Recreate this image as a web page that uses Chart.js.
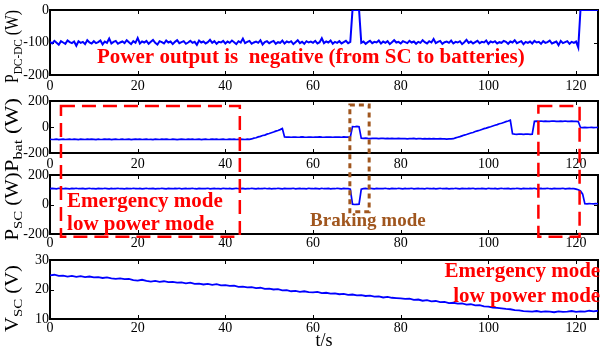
<!DOCTYPE html>
<html>
<head>
<meta charset="utf-8">
<script src="https://cdn.jsdelivr.net/npm/chart.js@4.4.0/dist/chart.umd.min.js"></script>
<style>
  html, body { margin: 0; padding: 0; background: #fff; }
  #wrap { position: relative; width: 607px; height: 348px; overflow: hidden; }
  #wrap canvas { position: absolute; left: 0; top: 0; }
</style>
</head>
<body>
<div id="wrap">
  <canvas id="c1" width="607" height="348"></canvas>
  <canvas id="c2" width="607" height="348"></canvas>
  <canvas id="c3" width="607" height="348"></canvas>
  <canvas id="c4" width="607" height="348"></canvas>
  <canvas id="notes" width="607" height="348"></canvas>
</div>
<script>
const SERIF = '"Liberation Serif", "Times New Roman", serif';
const RED = '#ff0000';
const BROWN = '#a0561e';

// sample spacing (s) of the power traces and of the SC voltage
const P_STEP = 0.5;
const V_STEP = 1;

// P_DC-DC (W), one value every 0.5 s from t = 0
const pDcDc = [
  -98,-103,-95,-101,-107,-96,-100,-104,-94,-99,-102,-97,-110,-96,-101,-98,-105,-93,-100,-103,
  -96,-102,-99,-94,-106,-97,-101,-88,-103,-98,-95,-104,-100,-97,-102,-93,-99,-105,-96,-101,
  -86,-103,-97,-100,-95,-104,-98,-92,-101,-106,-96,-99,-103,-94,-100,-97,-105,-98,-93,-102,
  -99,-96,-104,-100,-95,-101,-98,-107,-94,-100,-97,-103,-99,-92,-101,-96,-104,-98,-100,-95,
  -103,-97,-101,-94,-99,-105,-96,-100,-88,-102,-98,-95,-104,-100,-97,-101,-93,-106,-99,-96,
  -102,-98,-95,-104,-99,-101,-94,-103,-97,-100,-96,-105,-99,-93,-102,-98,-104,-96,-100,-97,
  -101,-95,-103,-99,-87,-102,-97,-100,-94,-104,-98,-101,-96,-103,-99,-95,-102,-98,
  0,0,0,0,
  -101,-97,-104,-99,-95,-102,-98,-100,-94,-103,-97,-101,-96,-105,-99,-93,-100,-98,-103,-96,
  -99,-102,-95,-100,-97,-104,-98,-101,-93,-99,-103,-96,-100,-89,-102,-98,-95,-104,-99,-97,
  -101,-94,-103,-98,-100,-96,-105,-99,-92,-101,-97,-103,-99,-95,-102,-98,-100,-94,-104,-97,
  -100,-96,-103,-99,-101,-95,-98,-104,-97,-100,-93,-102,-99,-96,-105,-98,-101,-97,-103,-95,
  -100,-98,-104,-96,-101,-99,-94,-103,-100,-97,-108,-95,-102,-99,-96,-104,-98,-101,-97,-115,
  0,0,0,0,0,0,0,0,0
];

// P_bat (W)
const pBat = [
  -94,-96,-95,-93,-97,-95,-94,-96,-95,-94,
  -96,-93,-95,-97,-94,-95,-96,-94,-95,-93,
  -95,-97,-94,-96,-95,-93,-95,-94,-97,-95,
  -94,-96,-95,-93,-96,-95,-94,-97,-95,-94,
  -95,-93,-96,-95,-94,-96,-95,-97,-94,-95,
  -96,-94,-95,-93,-95,-96,-94,-95,-97,-95,
  -94,-95,-96,-93,-95,-94,-96,-95,-94,-97,
  -95,-94,-96,-95,-93,-95,-94,-96,-95,-94,
  -96,-95,-93,-95,-94,-96,-95,-94,-95,-96,
  -94,-95,
  -92,-86,-83,-76,-72,-65,-62,-55,-50,-44,-39,-32,-27,-20,-12,
  -76,-78,-77,-79,-78,-77,-79,-78,-76,-78,-79,-77,-78,-79,-77,-78,-76,-78,-79,-77,
  -78,-77,-79,-78,-77,-78,-79,-76,-78,-77,-78,
  3,2,4,2,
  -87,-88,-86,-88,-89,-87,-88,-87,-89,-88,-88,-90,-87,-89,-88,-89,-90,-88,-89,-90,
  -89,-91,-89,-90,-88,-91,-90,-89,-91,-90,-92,-90,-91,-89,-92,-91,-90,-92,-91,-93,
  -91,-92,
  -90,-84,-79,-74,-68,-62,-58,-52,-46,-42,-35,-30,-25,-19,-13,-9,-3,2,8,13,
  18,25,29,35,41,46,52,
  -52,-55,-56,-54,-55,-56,-55,-54,-56,-55,
  44,45,43,46,44,45,43,44,46,45,44,43,45,44,46,44,43,45,44,43,42,
  -4,-5,-3,-5,-4,-3,-5,-4,-3
];

// P_SC (W)
const pSc = [
  107,109,108,106,110,108,107,109,108,106,109,108,110,107,108,109,106,108,110,107,
  108,106,109,108,107,110,108,106,109,107,108,110,107,108,106,109,108,107,110,108,
  107,109,106,108,110,107,108,109,106,108,107,110,108,106,109,108,107,109,108,110,
  106,108,109,107,108,110,107,106,109,108,107,108,110,106,108,109,107,108,106,110,
  108,107,109,106,108,110,107,108,109,106,108,107,110,108,106,109,107,108,110,107,
  109,106,108,107,110,108,106,109,108,107,108,110,106,108,109,107,108,106,110,108,
  107,109,108,106,110,107,108,109,106,108,107,110,108,106,109,108,107,104,
  2,0,1,2,
  104,108,109,107,110,108,106,109,108,107,108,110,107,106,109,108,107,110,108,106,
  109,107,108,110,106,108,109,107,108,106,110,108,107,109,106,108,110,107,108,109,
  106,108,107,110,108,106,109,108,107,109,108,110,106,108,107,109,108,106,110,108,
  107,109,106,108,110,107,108,109,106,108,107,110,108,106,109,108,107,109,108,110,
  106,108,109,107,108,110,107,106,109,108,107,108,110,106,108,109,107,108,104,100,
  92,70,5,4,6,5,4,6,5
];

// V_SC (V), one value per second
const vSc = [
  24.8,25.0,24.6,24.7,24.4,24.6,24.3,24.5,24.2,24.4,
  24.1,24.2,23.9,24.1,23.8,23.6,23.8,23.5,23.6,23.2,
  23.0,23.3,22.9,22.7,22.9,22.6,22.8,22.5,22.6,22.3,
  22.4,22.1,22.3,21.9,22.0,21.7,21.9,21.6,21.8,21.4,
  21.5,21.2,21.3,20.9,21.0,20.7,20.8,20.5,20.6,20.2,
  20.3,20.0,20.1,19.7,19.8,19.4,19.5,19.2,19.4,19.1,
  19.0,19.2,18.8,18.9,18.6,18.7,18.4,18.5,18.2,18.3,
  18.0,18.1,17.8,17.9,17.6,17.7,17.3,17.5,17.2,17.1,
  17.0,16.8,16.9,16.5,16.6,16.2,16.4,16.0,16.1,15.7,
  15.8,15.4,15.5,15.2,15.3,14.9,15.0,14.6,14.7,14.3,
  14.2,13.9,13.8,13.6,13.4,13.3,13.0,12.9,12.7,12.6,
  12.5,12.7,12.4,12.6,12.5,12.3,12.6,12.4,12.5,12.7,
  12.4,12.6,12.5,12.8,12.6,12.8
];

const tMin = 0, tMax = 125, tStep = 20;

const panels = [
  { id: 'c1', values: pDcDc, step: P_STEP, yMin: -200, yMax: 0, yStep: 100, top: 10, bottom: 75, axisH: 22, labelPad: 3, lineW: 2,
    title: { main: 'P', sub: 'DC-DC', unit: ' (W)', len: 73, shift: 4 } },
  { id: 'c2', values: pBat, step: P_STEP, yMin: -200, yMax: 200, yStep: 200, top: 101, bottom: 153, axisH: 22, labelPad: 3, lineW: 1.7,
    title: { main: 'P', sub: 'bat', unit: ' (W)', len: 74, shift: 8 } },
  { id: 'c3', values: pSc, step: P_STEP, yMin: -200, yMax: 200, yStep: 200, top: 175, bottom: 234, axisH: 22, labelPad: 1, lineW: 1.7,
    title: { main: 'P', sub: 'SC', unit: ' (W)', len: 68, shift: 2 } },
  { id: 'c4', values: vSc, step: V_STEP, yMin: 10, yMax: 30, yStep: 10, top: 260, bottom: 319, axisH: 29, labelPad: 1, lineW: 1.8,
    title: { main: 'V', sub: 'SC', unit: ' (V)', len: 67, shift: 9 }, xTitle: 't/s' }
];

// dashed boxes and red/brown notes, placed in data units of a panel
const boxes = [
  { t0: 2.5, t1: 43.3, top: [1, 162], bottom: [2, -218], color: RED, dash: [14, 7], width: 2.5 },
  { t0: 111.4, t1: 120.8, top: [1, 162], bottom: [2, -218], color: RED, dash: [14, 7], width: 2.5 },
  { t0: 68.4, t1: 72.8, top: [1, 170], bottom: [2, -49], color: BROWN, dash: [5, 4], width: 3 }
];
const notes = [
  { text: 'Power output is  negative (from SC to batteries)', panel: 0, t: 59.5, v: -145, align: 'center', color: RED, size: 21 },
  { text: 'Emergency mode', panel: 2, t: 3.9, v: 19, align: 'left', color: RED, size: 21 },
  { text: 'low power mode', panel: 2, t: 3.9, v: -139, align: 'left', color: RED, size: 21 },
  { text: 'Braking mode', panel: 2, t: 72.5, v: -110, align: 'center', color: BROWN, size: 19 },
  { text: 'Emergency mode', panel: 3, t: 125.5, v: 26, align: 'right', color: RED, size: 21 },
  { text: 'low power mode', panel: 3, t: 125.5, v: 17.6, align: 'right', color: RED, size: 21 }
];

function drawYTitle(ctx, t, cx, cy) {
  const mainFont = '18px ' + SERIF;
  const subFont = '13px ' + SERIF;
  ctx.font = mainFont;
  const w1 = ctx.measureText(t.main).width;
  const w3 = ctx.measureText(t.unit).width;
  ctx.font = subFont;
  const w2 = ctx.measureText(t.sub).width;
  const total = w1 + w2 + w3;
  ctx.save();
  ctx.translate(cx, cy);
  ctx.rotate(-Math.PI / 2);
  ctx.scale(t.len / total, 1);
  ctx.fillStyle = '#000';
  ctx.textAlign = 'left';
  ctx.textBaseline = 'alphabetic';
  let x = -total / 2;
  ctx.font = mainFont;
  ctx.fillText(t.main, x, 0);
  x += w1;
  ctx.font = subFont;
  ctx.fillText(t.sub, x, 4);
  x += w2;
  ctx.font = mainFont;
  ctx.fillText(t.unit, x, 0);
  ctx.restore();
}

// box with inward ticks on all sides (MATLAB look), drawn under the trace
const framePlugin = {
  id: 'frame',
  beforeDatasetsDraw(chart, args, opts) {
    const { ctx, chartArea: a, scales } = chart;
    ctx.save();
    ctx.strokeStyle = '#000';
    ctx.lineWidth = 1;
    ctx.beginPath();
    scales.x.ticks.forEach(tk => {
      const px = Math.round(scales.x.getPixelForValue(tk.value)) + 0.5;
      ctx.moveTo(px, a.top); ctx.lineTo(px, a.top + 4);
      ctx.moveTo(px, a.bottom); ctx.lineTo(px, a.bottom - 4);
    });
    scales.y.ticks.forEach(tk => {
      const py = Math.round(scales.y.getPixelForValue(tk.value)) + 0.5;
      ctx.moveTo(a.left, py); ctx.lineTo(a.left + 4, py);
      ctx.moveTo(a.right, py); ctx.lineTo(a.right - 4, py);
    });
    ctx.stroke();
    ctx.lineWidth = 2;
    ctx.strokeRect(a.left, a.top, a.right - a.left, a.bottom - a.top);
    ctx.restore();
    drawYTitle(ctx, opts.title, 18, (a.top + a.bottom) / 2 + opts.title.shift);
  }
};

function makeChart(p) {
  const points = p.values.map((v, i) => ({ x: i * p.step, y: v }));
  const tickFont = { family: SERIF, size: 14 };
  return new Chart(document.getElementById(p.id), {
    type: 'line',
    data: {
      datasets: [{
        data: points,
        borderColor: '#0000ff',
        borderWidth: p.lineW,
        pointRadius: 0,
        tension: 0
      }]
    },
    options: {
      responsive: false,
      animation: false,
      events: [],
      layout: { padding: { top: p.top, right: 9, bottom: 348 - p.bottom - p.axisH, left: 0 } },
      plugins: {
        legend: { display: false },
        tooltip: { enabled: false },
        frame: { title: p.title }
      },
      scales: {
        x: {
          type: 'linear',
          min: tMin,
          max: tMax,
          grid: { display: false, drawTicks: false },
          border: { display: false },
          ticks: { stepSize: tStep, includeBounds: false, color: '#000', font: tickFont, padding: p.labelPad, maxRotation: 0 },
          title: {
            display: !!p.xTitle,
            text: p.xTitle || '',
            color: '#000',
            font: { family: SERIF, size: 18 },
            padding: { top: 0, bottom: -4 }
          },
          afterFit: s => { s.height = p.axisH; }
        },
        y: {
          min: p.yMin,
          max: p.yMax,
          grid: { display: false, drawTicks: false },
          border: { display: false },
          ticks: { stepSize: p.yStep, color: '#000', font: tickFont, padding: 1 },
          afterFit: s => { s.width = 50; }
        }
      }
    },
    plugins: [framePlugin]
  });
}

function drawNotes(charts) {
  const ctx = document.getElementById('notes').getContext('2d');
  const xs = charts[0].scales.x;

  boxes.forEach(b => {
    const x0 = xs.getPixelForValue(b.t0);
    const x1 = xs.getPixelForValue(b.t1);
    const y0 = charts[b.top[0]].scales.y.getPixelForValue(b.top[1]);
    const y1 = charts[b.bottom[0]].scales.y.getPixelForValue(b.bottom[1]);
    ctx.save();
    ctx.strokeStyle = b.color;
    ctx.lineWidth = b.width;
    ctx.setLineDash(b.dash);
    ctx.strokeRect(x0, y0, x1 - x0, y1 - y0);
    ctx.restore();
  });

  notes.forEach(n => {
    ctx.save();
    ctx.font = 'bold ' + n.size + 'px ' + SERIF;
    ctx.fillStyle = n.color;
    ctx.textAlign = n.align;
    ctx.textBaseline = 'middle';
    ctx.fillText(n.text, xs.getPixelForValue(n.t), charts[n.panel].scales.y.getPixelForValue(n.v));
    ctx.restore();
  });
}

const charts = panels.map(makeChart);
drawNotes(charts);
</script>
</body>
</html>
